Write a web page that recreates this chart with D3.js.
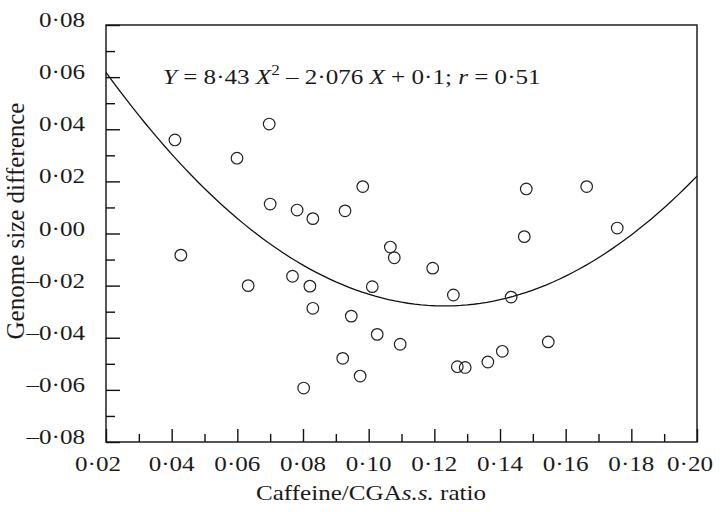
<!DOCTYPE html>
<html>
<head>
<meta charset="utf-8">
<script src="https://cdn.jsdelivr.net/npm/d3@7"></script>
<style>
 body { margin:0; background:#fff; }
 text { font-family:"Liberation Serif", "DejaVu Serif", serif; fill:#1a1a1a; }
</style>
</head>
<body>
<div id="chart"></div>
<script>
// caffeine / CGA s.s. ratio
var ratio = [0.041, 0.0428, 0.0599, 0.0633, 0.0697, 0.0700, 0.0768, 0.0782, 0.0821, 0.0830,
             0.0830, 0.0802, 0.0928, 0.0921, 0.0947, 0.0982, 0.0974, 0.1011, 0.1026, 0.1066,
             0.1078, 0.1096, 0.1195, 0.1258, 0.1270, 0.1294, 0.1363, 0.1407, 0.1434, 0.1474,
             0.1480, 0.1547, 0.1664, 0.1757];
// genome size difference
var gsDiff = [0.0359, -0.0083, 0.0289, -0.0200, 0.0420, 0.0113, -0.0164, 0.0090, -0.0202, 0.0057,
              -0.0287, -0.0593, 0.0087, -0.0479, -0.0317, 0.0180, -0.0547, -0.0204, -0.0387, -0.0052,
              -0.0093, -0.0425, -0.0133, -0.0236, -0.0511, -0.0514, -0.0493, -0.0452, -0.0244, -0.0012,
              0.0171, -0.0416, 0.0180, 0.0021];
// fitted quadratic  Y = a X^2 + b X + c
var fitCoef = [8.43, -2.076, 0.1];

var xTicks = [0.02, 0.04, 0.06, 0.08, 0.10, 0.12, 0.14, 0.16, 0.18, 0.20];
var yTicks = [-0.08, -0.06, -0.04, -0.02, 0.00, 0.02, 0.04, 0.06, 0.08];

var width = 720, height = 512;
var margin = {left:106, right:23, top:25, bottom:70};
var stretch = 1.14;   // the type in the figure is set wide

var svg = d3.select('#chart').append('svg')
    .attr('width', width)
    .attr('height', height);

var x = d3.scaleLinear().domain([0.02, 0.20]).range([margin.left, width - margin.right]);
var y = d3.scaleLinear().domain([-0.08, 0.08]).range([height - margin.bottom, margin.top]);

function fmt(v){
  var s = Math.abs(v).toFixed(2).replace('.', '\u00B7');
  return (v < -1e-9 ? '\u2013' : '') + s;
}
function wide(px, py){ return 'translate(' + px + ',' + py + ') scale(' + stretch + ',1)'; }
function tickStyle(g){
  g.select('.domain').remove();
  g.selectAll('line').attr('stroke', '#111').attr('stroke-width', 1.4);
}

// frame
svg.append('rect')
   .attr('x', x(0.02)).attr('y', y(0.08))
   .attr('width', x(0.20) - x(0.02)).attr('height', y(-0.08) - y(0.08))
   .attr('fill', 'none').attr('stroke', '#111').attr('stroke-width', 1.4);

// x axis ticks (inside)
var xMinor = d3.range(0.03, 0.20, 0.02);
svg.append('g').attr('transform', 'translate(0,' + y(-0.08) + ')')
   .call(d3.axisTop(x).tickValues(xTicks).tickSize(13).tickFormat(''))
   .call(tickStyle);
svg.append('g').attr('transform', 'translate(0,' + y(-0.08) + ')')
   .call(d3.axisTop(x).tickValues(xMinor).tickSize(8).tickFormat(''))
   .call(tickStyle);

svg.append('g').selectAll('text').data(xTicks).enter().append('text')
   .attr('transform', function(d, i){
      var nudge = i == 0 ? -8 : (i == xTicks.length - 1 ? -7 : 0);
      return wide(x(d) + nudge, y(-0.08) + 29);
   })
   .attr('text-anchor', 'middle')
   .style('font-size', '22px')
   .text(fmt);

// y axis ticks (inside)
var yMinor = d3.range(-0.07, 0.08, 0.02);
svg.append('g').attr('transform', 'translate(' + x(0.02) + ',0)')
   .call(d3.axisRight(y).tickValues(yTicks).tickSize(14).tickFormat(''))
   .call(tickStyle);
svg.append('g').attr('transform', 'translate(' + x(0.02) + ',0)')
   .call(d3.axisRight(y).tickValues(yMinor).tickSize(9).tickFormat(''))
   .call(tickStyle);

svg.append('g').selectAll('text').data(yTicks).enter().append('text')
   .attr('transform', function(d){ return wide(x(0.02) - 21, y(d) + 2); })
   .attr('text-anchor', 'end')
   .style('font-size', '22px')
   .text(fmt);

// fitted curve
var curveX = d3.range(0.02, 0.2001, 0.002);
var line = d3.line()
   .x(function(d){ return x(d); })
   .y(function(d){ return y(fitCoef[0]*d*d + fitCoef[1]*d + fitCoef[2]); });
svg.append('path').datum(curveX)
   .attr('d', line)
   .attr('fill', 'none').attr('stroke', '#111').attr('stroke-width', 1.3);

// points
svg.append('g').selectAll('circle').data(ratio).enter().append('circle')
   .attr('cx', function(d){ return x(d); })
   .attr('cy', function(d, i){ return y(gsDiff[i]); })
   .attr('r', 5.8)
   .attr('fill', 'none').attr('stroke', '#222').attr('stroke-width', 1.2);

// equation
var eq = svg.append('text').attr('transform', wide(163, 84)).style('font-size', '22px');
eq.append('tspan').style('font-style', 'italic').text('Y');
eq.append('tspan').text(' = 8\u00B743 ');
eq.append('tspan').style('font-style', 'italic').text('X');
eq.append('tspan').attr('dy', -9).style('font-size', '15px').text('2');
eq.append('tspan').attr('dy', 9).text(' \u2013 2\u00B7076 ');
eq.append('tspan').style('font-style', 'italic').text('X');
eq.append('tspan').text(' + 0\u00B71; ');
eq.append('tspan').style('font-style', 'italic').text('r');
eq.append('tspan').text(' = 0\u00B751');

// axis titles
var xt = svg.append('text').attr('transform', wide(371, 500)).attr('text-anchor', 'middle').style('font-size', '22px');
xt.append('tspan').text('Caffeine/CGA');
xt.append('tspan').style('font-style', 'italic').text('s.s.');
xt.append('tspan').text(' ratio');

svg.append('text')
   .attr('transform', 'translate(24,221) rotate(-90)')
   .attr('text-anchor', 'middle')
   .style('font-size', '25px')
   .text('Genome size difference');
</script>
</body>
</html>
